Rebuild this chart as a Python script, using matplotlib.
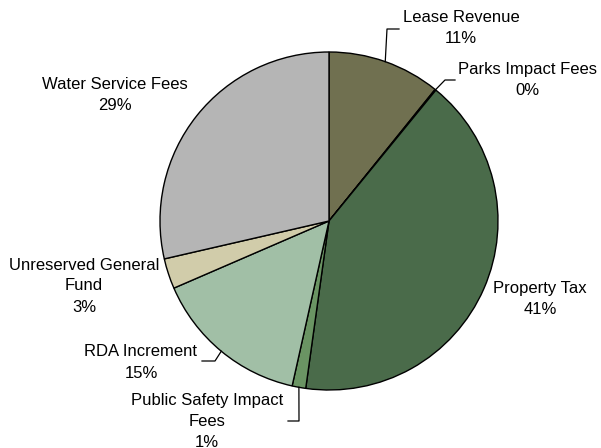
import numpy as np
import matplotlib
matplotlib.use("Agg")
import matplotlib.pyplot as plt

plt.rcParams["font.family"] = ["Liberation Sans", "DejaVu Sans"]

# Funding sources (share of total, percent)
sources = ["Lease Revenue", "Parks Impact Fees", "Property Tax",
           "Public Safety Impact Fees", "RDA Increment",
           "Unreserved General Fund", "Water Service Fees"]
shares = [10.8, 0.1, 41.3, 1.3, 15.0, 2.9, 28.6]
label_lines = [["Lease Revenue"], ["Parks Impact Fees"], ["Property Tax"],
               ["Public Safety Impact", "Fees"], ["RDA Increment"],
               ["Unreserved General", "Fund"], ["Water Service Fees"]]
colors = ["#707050", "#5a7a55", "#4a6b4a", "#6a9463", "#a1bfa6",
          "#d1ccaa", "#b5b5b5"]

W, H = 601, 448
fig = plt.figure(figsize=(W / 100, H / 100), dpi=100)
ax = fig.add_axes([0, 0, 1, 1])

cx, cy, r = 329, H - 221, 169
wedges, _ = ax.pie(shares, colors=colors, startangle=90, counterclock=False,
                   center=(cx, cy), radius=r, frame=True,
                   wedgeprops=dict(edgecolor="black", linewidth=1.0))
ax.set_xlim(0, W)
ax.set_ylim(0, H)
ax.set_aspect("equal")
ax.axis("off")

total = sum(shares)
# label anchor (x, y of first text line, pixel coords from top) and leader elbow
label_pos = {
    0: (461, 17), 1: (527, 69), 2: (540, 289), 3: (207, 400),
    4: (141, 352), 5: (84, 265), 6: (115, 84),
}
leaders = {
    0: [(399, 29), (387, 29)],
    1: [(455, 80), (445, 80)],
    3: [(288, 421), (299, 421)],
    4: [(202, 361), (215, 361)],
}
line_h = 21
for i, w in enumerate(wedges):
    lx, ly = label_pos[i]
    lines = label_lines[i] + [f"{round(shares[i] / total * 100):.0f}%"]
    for k, txt in enumerate(lines):
        ax.text(lx, H - (ly + k * line_h), txt, ha="center", va="center",
                fontsize=12, color="black")
    if i in leaders:
        mid = np.deg2rad((w.theta1 + w.theta2) / 2)
        rim = (cx + r * np.cos(mid), cy + r * np.sin(mid))
        pts = [(x, H - y) for x, y in leaders[i]] + [rim]
        xs, ys = zip(*pts)
        ax.plot(xs, ys, color="black", linewidth=0.9)

fig.savefig("out.png", dpi=100, facecolor="white")
